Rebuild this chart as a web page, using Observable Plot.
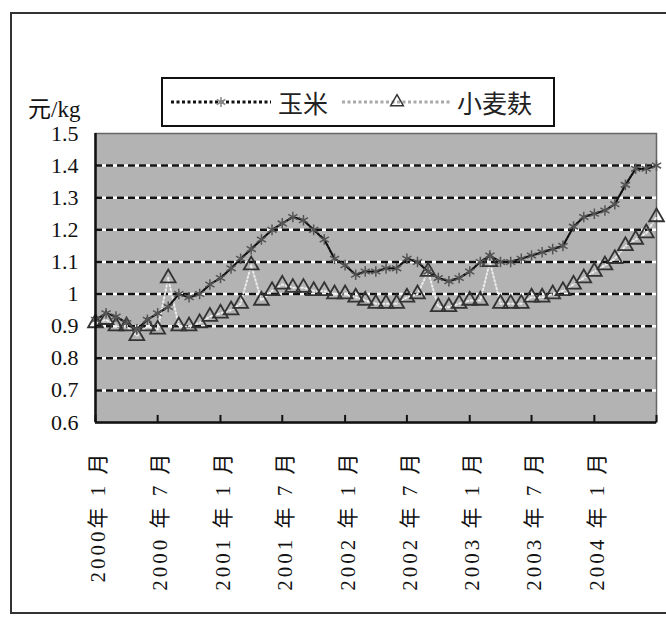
<!DOCTYPE html>
<html>
<head>
<meta charset="utf-8">
<script src="https://cdn.jsdelivr.net/npm/d3@7"></script>
<script src="https://cdn.jsdelivr.net/npm/@observablehq/plot@0.6"></script>
<style>
  html, body { margin: 0; padding: 0; background: #fff; }
  #wrap { position: relative; width: 666px; height: 619px; overflow: hidden; }
  #border { position: absolute; left: 10px; top: 12px; width: 700px; height: 602px; border: 2px solid #333; box-sizing: border-box; }
  #unit { position: absolute; left: 28px; top: 90px; font-size: 23px; font-family: "Liberation Serif", "Times New Roman", "DejaVu Serif", "Noto Sans CJK SC", serif; color: #111; }
  #legend { position: absolute; left: 161px; top: 77px; width: 394px; height: 50px; border: 2px solid #111; box-sizing: border-box; background: #fff; }
  #legend span { position: absolute; top: 5px; font-size: 25px; font-family: "Noto Sans CJK SC", sans-serif; color: #222; line-height: 36px; }
  #legend svg { position: absolute; top: 13px; }
  #chart { position: absolute; left: 0; top: 0; }
  #chart svg text { font-family: "Liberation Serif", "Times New Roman", "DejaVu Serif", "Noto Sans CJK SC", serif; }
  #chart g[aria-label="x-axis tick label"] text { letter-spacing: 3px; }
</style>
</head>
<body>
<div id="wrap">
  <div id="border"></div>
  <div id="chart"></div>
  <div id="unit">元/kg</div>
  <div id="legend">
    <svg id="sw1" style="left:6px" width="104" height="20"></svg>
    <span style="left:115px">玉米</span>
    <svg id="sw2" style="left:177px" width="114" height="20"></svg>
    <span style="left:294px">小麦麸</span>
  </div>
</div>
<script>
// Monthly prices, Jan 2000 – Jul 2004 (元/kg)
const corn = [0.92,0.94,0.93,0.91,0.89,0.92,0.94,0.96,1.00,0.99,
              1.00,1.03,1.05,1.08,1.11,1.14,1.17,1.20,1.22,1.24,
              1.23,1.20,1.17,1.11,1.09,1.06,1.07,1.07,1.08,1.08,
              1.11,1.10,1.07,1.05,1.04,1.05,1.07,1.10,1.12,1.10,
              1.10,1.11,1.12,1.13,1.14,1.15,1.21,1.24,1.25,1.26,
              1.28,1.34,1.39,1.39,1.40];
const bran = [0.91,0.92,0.90,0.90,0.87,0.90,0.89,1.05,0.90,0.90,
              0.91,0.93,0.94,0.95,0.97,1.09,0.98,1.01,1.03,1.02,
              1.02,1.01,1.01,1.00,1.00,0.99,0.98,0.97,0.97,0.97,
              0.99,1.00,1.07,0.96,0.96,0.97,0.98,0.98,1.10,0.97,
              0.97,0.97,0.99,0.99,1.00,1.01,1.03,1.05,1.07,1.09,
              1.11,1.15,1.17,1.19,1.24];
const seriesNames = ["玉米", "小麦麸"];
const yTicks = [0.6,0.7,0.8,0.9,1.0,1.1,1.2,1.3,1.4,1.5];
const tickLabels = ["2000年 1 月","2000 年 7 月","2001 年 1 月","2001 年 7 月","2002 年 1 月",
                    "2002 年 7 月","2003 年 1 月","2003 年 7 月","2004 年 1 月"];

const start = new Date(Date.UTC(2000, 0, 1));
const end = new Date(Date.UTC(2004, 6, 1));
const months = d3.utcMonth.range(start, d3.utcMonth.offset(end, 1));
const tickDates = d3.utcMonth.every(6).range(start, d3.utcMonth.offset(end, 1));
const labelDates = tickDates.slice(0, tickLabels.length);

const cornData = months.map((d, i) => ({date: d, value: corn[i], s: seriesNames[0]}));
const branData = months.map((d, i) => ({date: d, value: bran[i], s: seriesNames[1]}));
const gridVals = yTicks.filter(v => v > 0.6 && v < 1.5);

const serif = "Liberation Serif, Times New Roman, DejaVu Serif, Noto Sans CJK SC, serif";

const chart = Plot.plot({
  width: 666,
  height: 619,
  marginLeft: 95,
  marginRight: 10,
  marginTop: 133,
  marginBottom: 197,
  style: {background: "transparent", color: "#111"},
  x: {type: "utc", domain: [start, end]},
  y: {domain: [0.6, 1.5]},
  marks: [
    Plot.frame({fill: "#b3b3b3", stroke: "#666", strokeWidth: 1.5}),
    Plot.ruleY(gridVals, {stroke: "#fff", strokeWidth: 2.5}),
    Plot.ruleY(gridVals, {stroke: "#111", strokeWidth: 2.5, strokeDasharray: "7,4"}),
    Plot.line(branData, {x: "date", y: "value", stroke: "#ececec", strokeWidth: 2, strokeDasharray: "1.5,2.5"}),
    Plot.line(cornData, {x: "date", y: "value", stroke: "#111", strokeWidth: 2.2, strokeDasharray: "2,1.5"}),
    Plot.dot(branData, {x: "date", y: "value", symbol: "triangle", r: 5.5, stroke: "#333", strokeWidth: 1.8, fill: "none"}),
    Plot.dot(cornData, {x: "date", y: "value", symbol: "asterisk", r: 5, stroke: "#555", strokeWidth: 1.5}),
    Plot.ruleX(tickDates, {y1: 0.6, y2: 0.622, stroke: "#111", strokeWidth: 2}),
    Plot.ruleY([0.6], {stroke: "#111", strokeWidth: 2.5}),
    Plot.ruleX([start], {stroke: "#111", strokeWidth: 2.5}),
    Plot.axisY({ticks: yTicks, tickSize: 0, tickPadding: 17, tickFormat: d => String(+d.toFixed(1)),
                fontSize: 22, fontFamily: serif, label: null}),
    Plot.axisX({ticks: labelDates, tickSize: 0, tickPadding: 28, tickRotate: -90, dx: 3,
                tickFormat: (d, i) => tickLabels[i], fontSize: 21, fontFamily: serif, label: null})
  ]
});
document.getElementById("chart").appendChild(chart);

// legend swatches
function swatch(id, lineColor, sym, symColor, w) {
  const svg = d3.select("#" + id);
  svg.append("line").attr("x1", 2).attr("x2", w - 2).attr("y1", 10).attr("y2", 10)
    .attr("stroke", lineColor).attr("stroke-width", 3).attr("stroke-dasharray", "3,2.5");
  svg.append("path").attr("transform", `translate(${w / 2},10)`)
    .attr("d", d3.symbol(sym, 70)()).attr("fill", "none").attr("stroke", symColor).attr("stroke-width", 1.5);
}
swatch("sw1", "#111", d3.symbolAsterisk, "#888", 104);
swatch("sw2", "#aaa", d3.symbolTriangle, "#333", 114);
</script>
</body>
</html>
